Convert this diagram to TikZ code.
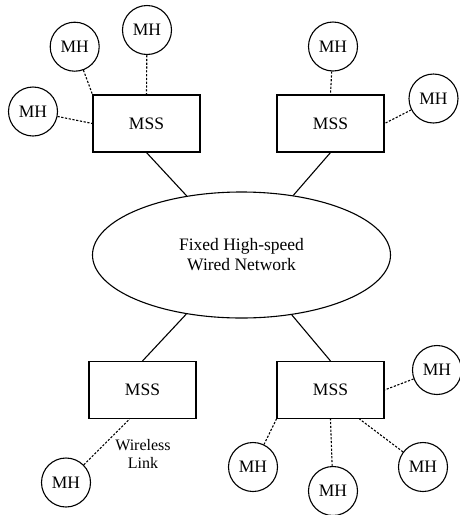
\documentclass[tikz,border=0pt]{standalone}
\usepackage{fontspec}
\setmainfont{Liberation Serif}
\usetikzlibrary{shapes.geometric}
\begin{document}
\begin{tikzpicture}[x=1pt, y=-1pt, line width=1.1pt,
    mh/.style={draw, circle, minimum size=49pt, inner sep=0pt, font=\fontsize{17.5}{20}\selectfont},
    mss/.style={draw, rectangle, minimum width=107pt, minimum height=57pt, inner sep=0pt, font=\fontsize{17.5}{20}\selectfont},
    wless/.style={dash pattern=on 2.2pt off 1.6pt}]
    \useasboundingbox (0,0) rectangle (459,515);

    \node[draw, ellipse, minimum width=298pt, minimum height=126pt, inner sep=0pt,
          align=center, font=\fontsize{17.5}{20}\selectfont] (net) at (241.5,255)
          {Fixed High-speed\\Wired Network};

    \node[mss] (mssA) at (146.5,123.5) {MSS};
    \node[mss] (mssB) at (330.5,123.5) {MSS};
    \node[mss] (mssC) at (142.5,390) {MSS};
    \node[mss] (mssD) at (330.5,390) {MSS};

    \node[mh] (mhA) at (74.7,46.7) {MH};
    \node[mh] (mhB) at (147,30) {MH};
    \node[mh] (mhC) at (33,111.5) {MH};
    \node[mh] (mhD) at (333,46.5) {MH};
    \node[mh] (mhE) at (433.5,98.5) {MH};
    \node[mh] (mhF) at (66,482.5) {MH};
    \node[mh] (mhG) at (437,370) {MH};
    \node[mh] (mhH) at (253,467) {MH};
    \node[mh] (mhI) at (333,491) {MH};
    \node[mh] (mhJ) at (423,467) {MH};

    \node[align=center, font=\fontsize{16}{18}\selectfont] (wlabel) at (143,454) {Wireless\\Link};

    % wired backbone
    \draw (mssA.south) -- (net);
    \draw (mssB.south) -- (net);
    \draw (mssC.north) -- (net);
    \draw (mssD.north) -- (net);

    % wireless links
    \draw[wless] (mhA) -- (mssA.north west);
    \draw[wless] (mhB) -- (mssA.north);
    \draw[wless] (mhC) -- (mssA.west);
    \draw[wless] (mhD) -- (mssB.north);
    \draw[wless] (mhE) -- (mssB.east);
    \draw[wless] (mhF) -- (mssC.-114);
    \draw[wless] (mhG) -- (mssD.east);
    \draw[wless] (mhH) -- (mssD.south west);
    \draw[wless] (mhI) -- (mssD.south);
    \draw[wless] (mhJ) -- (mssD.-45);
\end{tikzpicture}
\end{document}
